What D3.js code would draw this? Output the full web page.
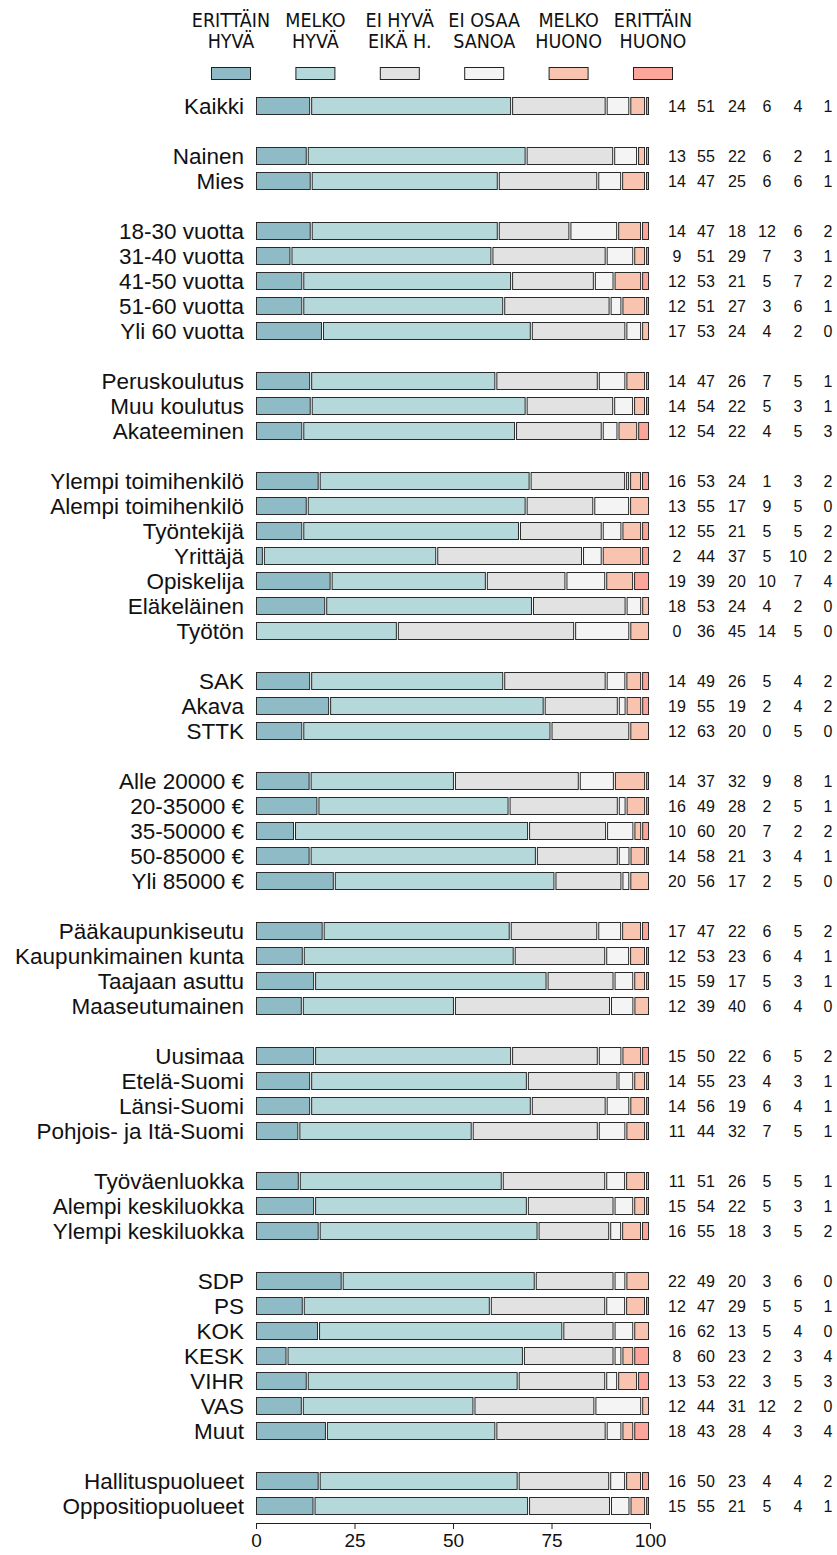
<!DOCTYPE html>
<html><head><meta charset="utf-8">
<script src="https://cdn.jsdelivr.net/npm/d3@7"></script>
<style>
html,body{margin:0;padding:0;background:#fff;}
svg{display:block;}
</style></head>
<body>
<script>
const categories = ["Kaikki","Nainen","Mies","18-30 vuotta","31-40 vuotta","41-50 vuotta","51-60 vuotta","Yli 60 vuotta","Peruskoulutus","Muu koulutus","Akateeminen","Ylempi toimihenkilö","Alempi toimihenkilö","Työntekijä","Yrittäjä","Opiskelija","Eläkeläinen","Työtön","SAK","Akava","STTK","Alle 20000 €","20-35000 €","35-50000 €","50-85000 €","Yli 85000 €","Pääkaupunkiseutu","Kaupunkimainen kunta","Taajaan asuttu","Maaseutumainen","Uusimaa","Etelä-Suomi","Länsi-Suomi","Pohjois- ja Itä-Suomi","Työväenluokka","Alempi keskiluokka","Ylempi keskiluokka","SDP","PS","KOK","KESK","VIHR","VAS","Muut","Hallituspuolueet","Oppositiopuolueet"];
const groups = [0,1,1,2,2,2,2,2,3,3,3,4,4,4,4,4,4,4,5,5,5,6,6,6,6,6,7,7,7,7,8,8,8,8,9,9,9,10,10,10,10,10,10,10,11,11];
const erittainHyva  = [14,13,14,14,9,12,12,17,14,14,12,16,13,12,2,19,18,0,14,19,12,14,16,10,14,20,17,12,15,12,15,14,14,11,11,15,16,22,12,16,8,13,12,18,16,15];
const melkoHyva     = [51,55,47,47,51,53,51,53,47,54,54,53,55,55,44,39,53,36,49,55,63,37,49,60,58,56,47,53,59,39,50,55,56,44,51,54,55,49,47,62,60,53,44,43,50,55];
const eiHyvaEika    = [24,22,25,18,29,21,27,24,26,22,22,24,17,21,37,20,24,45,26,19,20,32,28,20,21,17,22,23,17,40,22,23,19,32,26,22,18,20,29,13,23,22,31,28,23,21];
const eiOsaa        = [6,6,6,12,7,5,3,4,7,5,4,1,9,5,5,10,4,14,5,2,0,9,2,7,3,2,6,6,5,6,6,4,6,7,5,5,3,3,5,5,2,3,12,4,4,5];
const melkoHuono    = [4,2,6,6,3,7,6,2,5,3,5,3,5,5,10,7,2,5,4,4,5,8,5,2,4,5,5,4,3,4,5,3,4,5,5,3,5,6,5,4,3,5,2,3,4,4];
const erittainHuono = [1,1,1,2,1,2,1,0,1,1,3,2,0,2,2,4,0,0,2,2,0,1,1,2,1,0,2,1,1,0,2,1,1,1,1,1,2,0,1,0,4,3,0,4,2,1];
const seriesNames = [["ERITTÄIN","HYVÄ"],["MELKO","HYVÄ"],["EI HYVÄ","EIKÄ H."],["EI OSAA","SANOA"],["MELKO","HUONO"],["ERITTÄIN","HUONO"]];
const colors = ["#8fbbc6","#b5d8da","#e2e2e2","#f4f4f4","#f8c4b0","#fca59a"];
const tickValues = [0,25,50,75,100];

const series = [erittainHyva, melkoHyva, eiHyvaEika, eiOsaa, melkoHuono, erittainHuono];

const W = 837, H = 1555;
const svg = d3.select("body").append("svg").attr("width", W).attr("height", H)
  .style("font-family", "'Liberation Sans', Arial, sans-serif");

const x = d3.scaleLinear().domain([0,100]).range([256,650]);
const slots = categories.map((c,i)=> i + groups[i]);
const y = d3.scaleLinear().domain([0, 56]).range([106, 1506]);
const barH = 18;

// legend
const legX = d3.scaleLinear().domain([0,5]).range([231, 653]);
const leg = svg.append("g").style("font-family","'Liberation Sans Narrow','Arial Narrow','DejaVu Sans Condensed',sans-serif").style("font-size","19.5px");
seriesNames.forEach((nm,i)=>{
  const cx = legX(i);
  nm.forEach((t,j)=>{
    leg.append("text").attr("x",cx).attr("y",27+21*j).attr("text-anchor","middle").attr("fill","#111").text(t);
  });
  leg.append("rect").attr("x",cx-19.5).attr("y",67.5).attr("width",39).attr("height",12)
    .attr("fill",colors[i]).attr("stroke","#222").attr("stroke-width",1);
});

// rows
const numX = [677,706,737,767,798,828];
categories.forEach((c,i)=>{
  const yc = y(slots[i]);
  const vals = series.map(s=>s[i]);
  const tot = d3.sum(vals);
  let cum = 0;
  const g = svg.append("g");
  vals.forEach((v,k)=>{
    const c0 = cum/tot*100, c1 = (cum+v)/tot*100;
    cum += v;
    if (v<=0) return;
    const x0 = x(c0), x1 = x(c1);
    g.append("rect").attr("x", x0+0.5).attr("y", yc-barH/2+0.5)
      .attr("width", Math.max(0.5, x1-x0-2)).attr("height", barH-1)
      .attr("fill", colors[k]).attr("stroke","#2a2a2a").attr("stroke-width",1);
  });
  svg.append("text").attr("x",244).attr("y",yc+8).attr("text-anchor","end")
    .style("font-size","22.5px").attr("fill","#111").text(c);
  vals.forEach((v,k)=>{
    svg.append("text").attr("x",numX[k]).attr("y",yc+5.5).attr("text-anchor","middle")
      .style("font-size","16px").attr("fill","#111").text(v);
  });
});

// axis
const axis = svg.append("g").attr("transform","translate(0,1523)")
  .call(d3.axisBottom(x).tickValues(tickValues).tickSize(6).tickPadding(5).tickFormat(d3.format("d")));
axis.select(".domain").attr("stroke","#222");
axis.selectAll(".tick line").attr("stroke","#222");
axis.selectAll("text").style("font-size","19px").style("font-family","'Liberation Sans Narrow','Arial Narrow','Liberation Sans',sans-serif").attr("fill","#111");
</script>
</body></html>
